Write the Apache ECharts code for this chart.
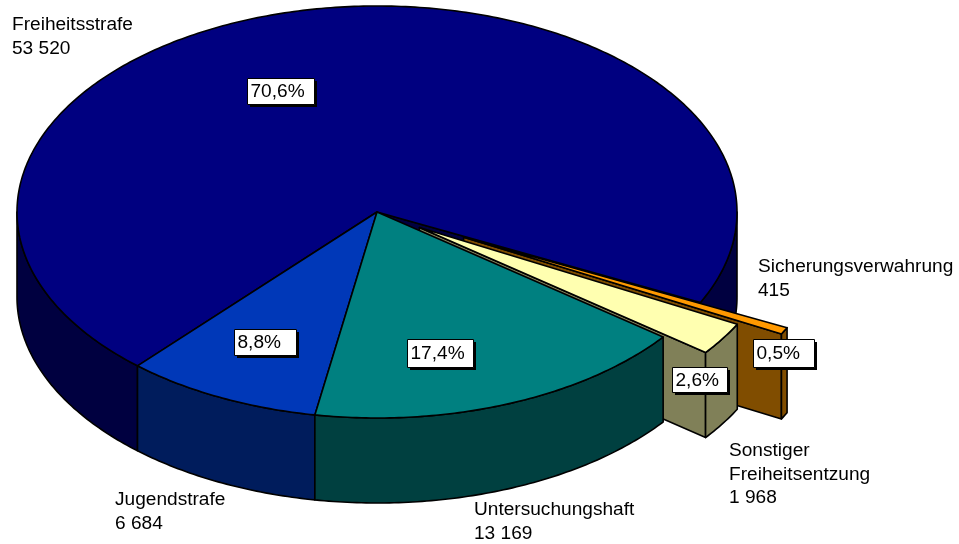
<!DOCTYPE html>
<html><head><meta charset="utf-8">
<style>html,body{margin:0;padding:0;background:#fff}#c{width:959px;height:544px}</style>
<script src="https://cdn.jsdelivr.net/npm/echarts@6/dist/echarts.min.js"></script>
</head><body><div id="c"></div>
<script>
// ---- data ----
const categories = ['Jugendstrafe','Untersuchungshaft','Sonstiger\nFreiheitsentzung','Sicherungsverwahrung','Freiheitsstrafe'];
const values = [6684,13169,1968,415,53520];
// ---- style / layout ----
const topColors  = ['#0038B8','#008080','#FFFFB0','#FF9900','#000080'];
const sideColors = ['#001C5C','#004040','#808058','#804D00','#000040'];
const explode    = [0,0,0.14,0.27,0];
const drawOrder  = [4,3,2,0,1];
const pctBoxes   = [[234,329,62,26],[407,339,66,28],[672,367,55,25],[753,339,61,28],[247,78,67,26]];
const namePos    = [[115,488],[474,498],[729,439],[758,255],[12,13]];
const CX=377, CY=212, RX=360, RY=206, DEPTH=85, START=-41.7;
const FONT='"Liberation Sans",Arial,sans-serif', FS=19.1, LH=23.5;

const total = values.reduce((a,b)=>a+b,0);
const spans = []; { let a=START; values.forEach(v=>{const s=v/total*360; spans.push([a,a+s]); a+=s;}); }
const rad = d=>d*Math.PI/180;
function pt(deg,ox,oy,dz){return [CX+ox+RX*Math.sin(rad(deg)), CY+oy+RY*Math.cos(rad(deg))+(dz||0)];}
function arc(a,b,ox,oy,dz){const n=Math.max(2,Math.ceil(Math.abs(b-a)/0.75)),r=[];for(let i=0;i<=n;i++)r.push(pt(a+(b-a)*i/n,ox,oy,dz));return r;}
function poly(points,fill,width){return {type:'polygon',shape:{points},style:{fill,stroke:'#000',lineWidth:width||1.6,lineJoin:'round'}};}
function sliceEls(i){
  const [a,b]=spans[i], mid=(a+b)/2, e=explode[i];
  const ox=RX*Math.sin(rad(mid))*e, oy=RY*Math.cos(rad(mid))*e;
  const apex=[CX+ox,CY+oy], els=[];
  if(Math.sin(rad(a))>0){const p=pt(a,ox,oy);els.push(poly([apex,p,[p[0],p[1]+DEPTH],[apex[0],apex[1]+DEPTH]],sideColors[i]));}
  [[-90,90],[270,450]].forEach(([lo,hi])=>{
    const s=Math.max(a,lo), t=Math.min(b,hi);
    if(t>s){const up=arc(s,t,ox,oy,0),dn=arc(t,s,ox,oy,DEPTH);els.push(poly(up.concat(dn),sideColors[i]));}
  });
  els.push(poly([apex].concat(arc(a,b,ox,oy,0)),topColors[i]));
  return els;
}
const pct = v=>(v/total*100).toFixed(1).replace('.',',')+'%';
const num = v=>String(v).replace(/\B(?=(\d{3})+$)/g,' ');
function labelEls(i){
  const [x,y,w,h]=pctBoxes[i], [nx,ny]=namePos[i];
  return [
    {type:'text',style:{text:categories[i]+'\n'+num(values[i]),x:nx,y:ny,fill:'#000',fontFamily:FONT,fontSize:FS,lineHeight:LH,align:'left',verticalAlign:'top'}},
    {type:'rect',shape:{x:x+3,y:y+3,width:w,height:h},style:{fill:'#000'}},
    {type:'rect',shape:{x:x+0.5,y:y+0.5,width:w,height:h},style:{fill:'#fff',stroke:'#000',lineWidth:1}},
    {type:'text',style:{text:pct(values[i]),x:x+3.5,y:y+h/2+1,fill:'#000',fontFamily:FONT,fontSize:FS,align:'left',verticalAlign:'middle'}}
  ];
}
const chart=echarts.init(document.getElementById('c'),null,{renderer:'canvas'});
chart.setOption({
  animation:false,backgroundColor:'#fff',
  series:[
    {type:'custom',coordinateSystem:'none',silent:true,z:1,data:drawOrder.map(i=>[i]),
     renderItem:(p,api)=>({type:'group',children:sliceEls(api.value(0))})},
    {type:'custom',coordinateSystem:'none',silent:true,z:2,data:values.map((v,i)=>[i]),
     renderItem:(p,api)=>({type:'group',children:labelEls(api.value(0))})}
  ]
});
</script></body></html>
